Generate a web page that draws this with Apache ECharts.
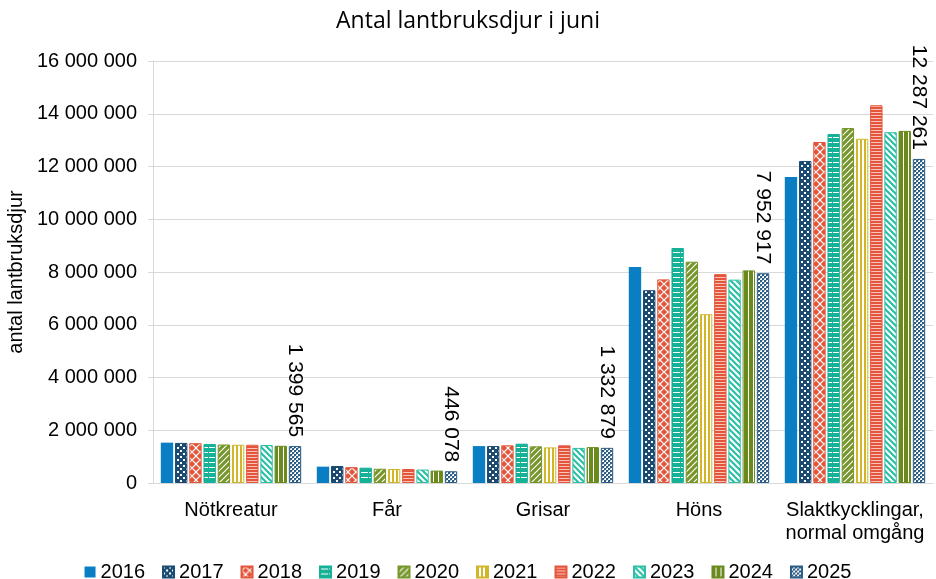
<!DOCTYPE html>
<html>
<head>
<meta charset="utf-8">
<script src="https://cdn.jsdelivr.net/npm/echarts@6/dist/echarts.min.js"></script>
<style>
  html, body { margin: 0; padding: 0; background: #fff; }
  #chart { width: 936px; height: 579px; }
</style>
</head>
<body>
<div id="chart"></div>
<script>
// kategorier och år
const categories = ['Nötkreatur', 'Får', 'Grisar', 'Höns', 'Slaktkycklingar,\nnormal omgång'];
const years = ['2016', '2017', '2018', '2019', '2020', '2021', '2022', '2023', '2024', '2025'];

// antal djur per år (Nötkreatur, Får, Grisar, Höns, Slaktkycklingar)
const v2016 = [1530000, 620000, 1400000, 8190000, 11600000];
const v2017 = [1520000, 645000, 1400000, 7310000, 12210000];
const v2018 = [1510000, 600000, 1430000, 7720000, 12930000];
const v2019 = [1480000, 580000, 1490000, 8910000, 13230000];
const v2020 = [1460000, 540000, 1390000, 8390000, 13460000];
const v2021 = [1450000, 530000, 1350000, 6400000, 13050000];
const v2022 = [1450000, 530000, 1430000, 7920000, 14320000];
const v2023 = [1440000, 510000, 1330000, 7710000, 13300000];
const v2024 = [1410000, 470000, 1360000, 8060000, 13350000];
const v2025 = [1399565, 446078, 1332879, 7952917, 12287261];

const seriesValues = [v2016, v2017, v2018, v2019, v2020, v2021, v2022, v2023, v2024, v2025];
const seriesColors = ['#0a7ec2', '#1b4b73', '#e2553a', '#16b197', '#76962a',
                      '#d1b62a', '#e5553d', '#2cbfa6', '#6a8a1d', '#2b5d86'];

const FONT = 'Liberation Sans';

// formaterar tal med mellanslag som tusentalsavgränsare
function fmt(v) {
    return String(Math.round(v)).replace(/\B(?=(\d{3})+(?!\d))/g, ' ');
}

// skapa mönster på en liten canvas
function makeTile(w, h, draw) {
    const c = document.createElement('canvas');
    c.width = w;
    c.height = h;
    const ctx = c.getContext('2d');
    draw(ctx, w, h);
    return { image: c, repeat: 'repeat' };
}

const patterns = [
    // 2016 helfärg
    seriesColors[0],
    // 2017 prickar
    makeTile(6, 6, (ctx, w, h) => {
        ctx.fillStyle = seriesColors[1]; ctx.fillRect(0, 0, w, h);
        ctx.fillStyle = '#fff';
        ctx.fillRect(0, 0, 2, 2);
        ctx.fillRect(3, 3, 2, 2);
    }),
    // 2018 spaljé
    makeTile(8, 8, (ctx, w, h) => {
        ctx.fillStyle = seriesColors[2]; ctx.fillRect(0, 0, w, h);
        ctx.strokeStyle = '#fff'; ctx.lineWidth = 1.2;
        ctx.beginPath();
        ctx.moveTo(0, 4); ctx.lineTo(4, 0); ctx.lineTo(8, 4); ctx.lineTo(4, 8); ctx.closePath();
        ctx.stroke();
    }),
    // 2019 vågräta streck
    makeTile(8, 5, (ctx, w, h) => {
        ctx.fillStyle = seriesColors[3]; ctx.fillRect(0, 0, w, h);
        ctx.fillStyle = '#fff';
        ctx.fillRect(1, 2, 7, 1);
    }),
    // 2020 diagonal uppåt
    makeTile(6, 6, (ctx, w, h) => {
        ctx.fillStyle = seriesColors[4]; ctx.fillRect(0, 0, w, h);
        ctx.strokeStyle = '#fff'; ctx.lineWidth = 1.2;
        ctx.beginPath();
        ctx.moveTo(-1, 7); ctx.lineTo(7, -1);
        ctx.moveTo(-1, 1); ctx.lineTo(1, -1);
        ctx.moveTo(5, 7); ctx.lineTo(7, 5);
        ctx.stroke();
    }),
    // 2021 lodräta smala linjer
    makeTile(4, 4, (ctx, w, h) => {
        ctx.fillStyle = '#fff'; ctx.fillRect(0, 0, w, h);
        ctx.fillStyle = seriesColors[5];
        ctx.fillRect(0, 0, 2, h);
    }),
    // 2022 vågräta linjer
    makeTile(4, 3, (ctx, w, h) => {
        ctx.fillStyle = seriesColors[6]; ctx.fillRect(0, 0, w, h);
        ctx.fillStyle = '#f7c5b8';
        ctx.fillRect(0, 1, w, 1);
    }),
    // 2023 diagonal nedåt
    makeTile(6, 6, (ctx, w, h) => {
        ctx.fillStyle = '#fff'; ctx.fillRect(0, 0, w, h);
        ctx.strokeStyle = seriesColors[7]; ctx.lineWidth = 2.2;
        ctx.beginPath();
        ctx.moveTo(-1, -1); ctx.lineTo(7, 7);
        ctx.moveTo(5, -1); ctx.lineTo(7, 1);
        ctx.moveTo(-1, 5); ctx.lineTo(1, 7);
        ctx.stroke();
    }),
    // 2024 lodräta vita linjer
    makeTile(5, 4, (ctx, w, h) => {
        ctx.fillStyle = seriesColors[8]; ctx.fillRect(0, 0, w, h);
        ctx.fillStyle = '#fff';
        ctx.fillRect(3, 0, 1, h);
    }),
    // 2025 rutmönster
    makeTile(4, 4, (ctx, w, h) => {
        ctx.fillStyle = '#fff'; ctx.fillRect(0, 0, w, h);
        ctx.fillStyle = seriesColors[9];
        ctx.fillRect(0, 0, 2, 2);
        ctx.fillRect(2, 2, 2, 2);
        ctx.fillStyle = '#9fb5c9';
        ctx.fillRect(2, 0, 1, 1);
        ctx.fillRect(0, 2, 1, 1);
    })
];

const series = years.map((y, i) => {
    const s = {
        name: y,
        type: 'bar',
        data: seriesValues[i],
        barGap: '15%',
        barCategoryGap: '10%',
        itemStyle: {
            color: patterns[i],
            borderColor: seriesColors[i],
            borderWidth: i === 0 ? 0 : 1
        }
    };
    // endast senaste året får etiketter
    if (i === years.length - 1) {
        s.label = {
            show: true,
            position: 'top',
            rotate: -90,
            align: 'right',
            verticalAlign: 'middle',
            distance: 9,
            fontFamily: FONT,
            fontSize: 21,
            color: '#000',
            formatter: p => fmt(p.value)
        };
    }
    return s;
});

const chart = echarts.init(document.getElementById('chart'));
chart.setOption({
    animation: false,
    title: {
        text: 'Antal lantbruksdjur i juni',
        left: 'center',
        top: 5,
        textStyle: { fontFamily: 'Open Sans', fontSize: 23, fontWeight: 'normal', color: '#000' }
    },
    grid: { left: 153, right: 3, top: 61, bottom: 96, containLabel: false, outerBoundsMode: 'none' },
    legend: {
        top: 557,
        left: 'center',
        itemWidth: 11,
        itemHeight: 11,
        itemGap: 17,
        icon: 'rect',
        textStyle: { fontFamily: FONT, fontSize: 20, color: '#000' },
        data: years
    },
    xAxis: {
        type: 'category',
        data: categories,
        axisLine: { lineStyle: { color: '#d9d9d9' } },
        axisTick: { show: false },
        axisLabel: { interval: 0, fontFamily: FONT, fontSize: 20, color: '#000', margin: 16, lineHeight: 23 }
    },
    yAxis: {
        type: 'value',
        min: 0,
        max: 16000000,
        interval: 2000000,
        name: 'antal lantbruksdjur',
        nameLocation: 'middle',
        nameGap: 127,
        nameTextStyle: { fontFamily: FONT, fontSize: 20, color: '#000' },
        axisLine: { show: true, lineStyle: { color: '#d9d9d9' } },
        axisTick: { show: true, length: 5, lineStyle: { color: '#d9d9d9' } },
        splitLine: { lineStyle: { color: '#d9d9d9' } },
        axisLabel: { fontFamily: FONT, fontSize: 20, color: '#000', margin: 16, formatter: v => fmt(v) }
    },
    series: series
});
</script>
</body>
</html>
